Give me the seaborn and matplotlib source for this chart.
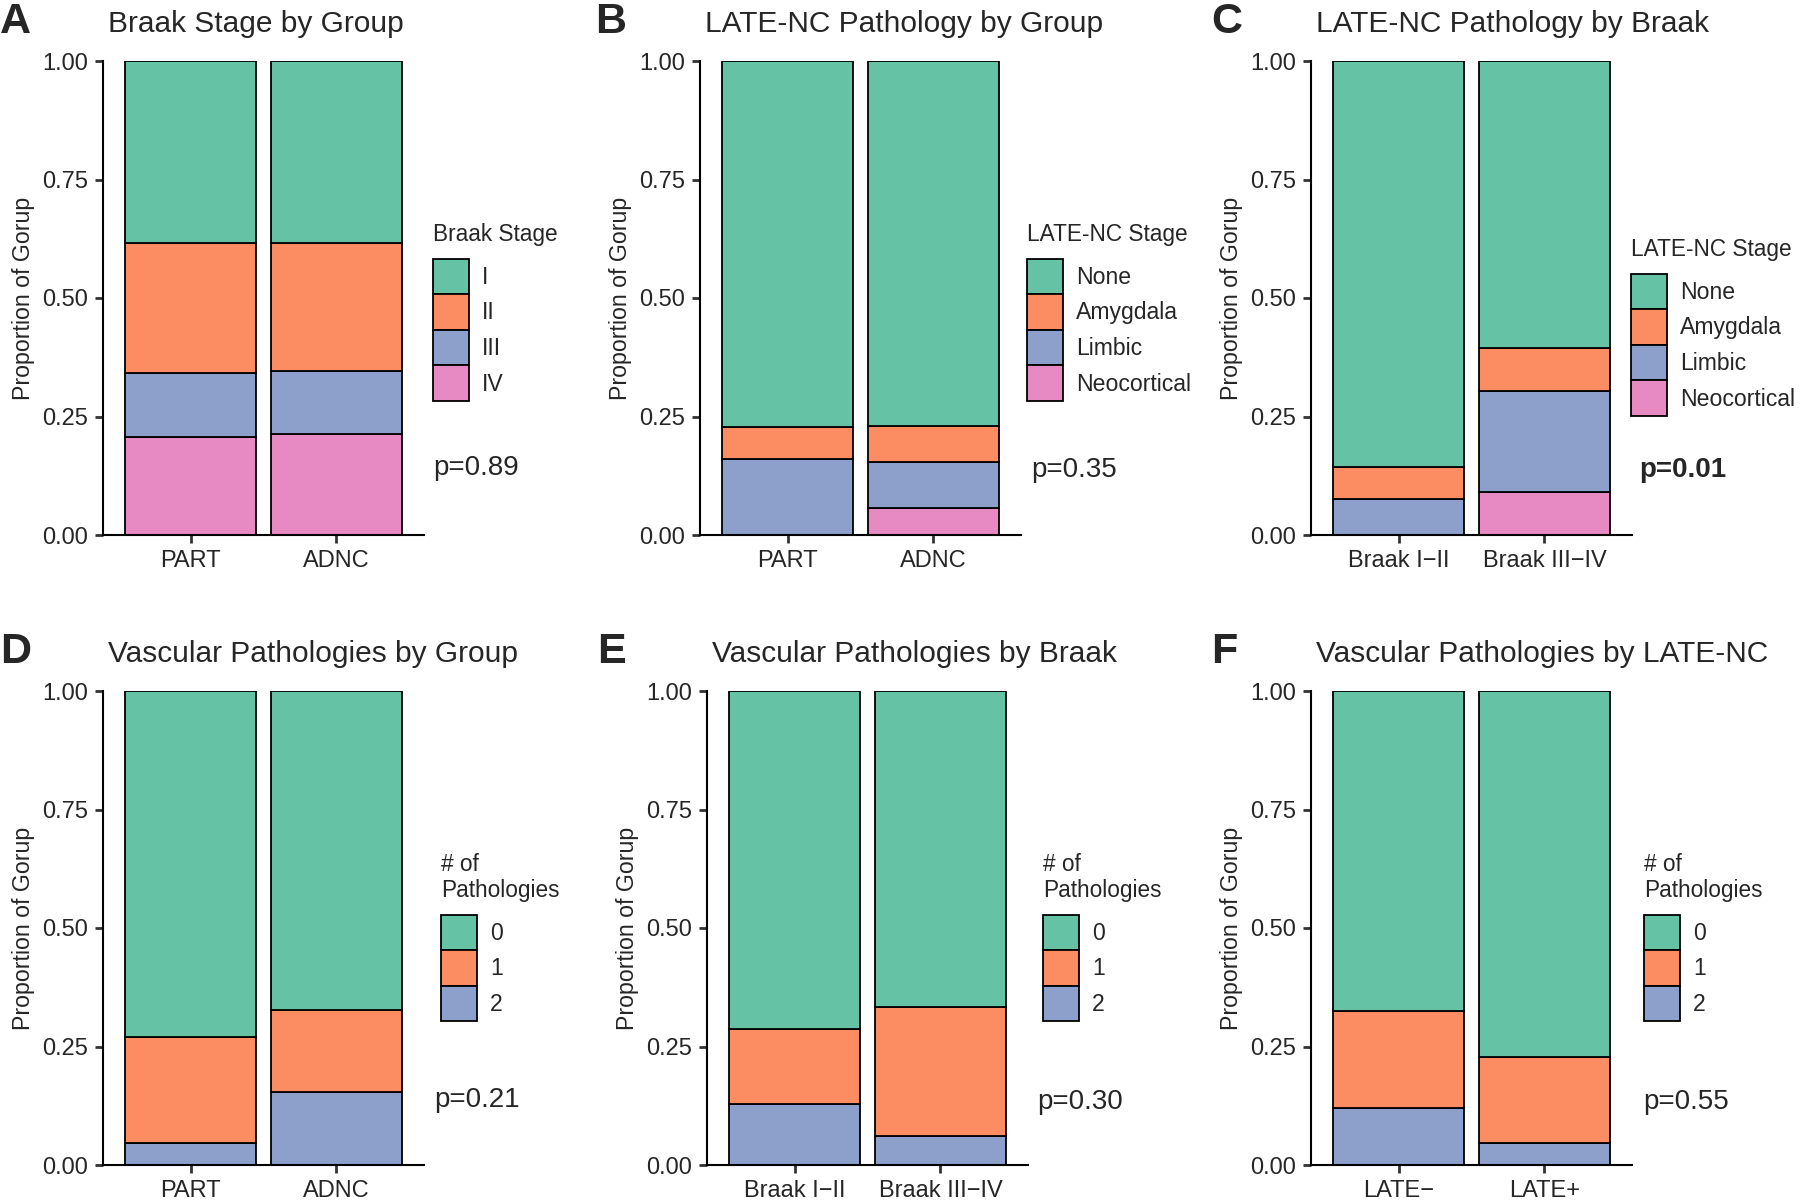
import pandas as pd
import matplotlib
matplotlib.use('Agg')
import matplotlib.pyplot as plt
from matplotlib.patches import Patch
import seaborn as sns

# Proportions (legend order = top-to-bottom of each bar)
braak_levels = ['I', 'II', 'III', 'IV']
late_levels = ['None', 'Amygdala', 'Limbic', 'Neocortical']
vasc_levels = ['0', '1', '2']

group_cats = ['PART', 'ADNC']
braak_cats = ['Braak I\u2212II', 'Braak III\u2212IV']
late_cats = ['LATE\u2212', 'LATE+']

# panel A: Braak stage by group
braak_part = [0.385, 0.274, 0.135, 0.206]
braak_adnc = [0.385, 0.269, 0.133, 0.213]
# panel B: LATE-NC by group
late_part = [0.772, 0.068, 0.160, 0.0]
late_adnc = [0.770, 0.075, 0.097, 0.058]
# panel C: LATE-NC by Braak
late_braak12 = [0.857, 0.066, 0.077, 0.0]
late_braak34 = [0.605, 0.092, 0.213, 0.090]
# panel D: vascular by group
vasc_part = [0.729, 0.225, 0.046]
vasc_adnc = [0.673, 0.174, 0.153]
# panel E: vascular by Braak
vasc_braak12 = [0.714, 0.158, 0.128]
vasc_braak34 = [0.666, 0.273, 0.061]
# panel F: vascular by LATE-NC
vasc_late_neg = [0.676, 0.203, 0.121]
vasc_late_pos = [0.772, 0.182, 0.046]

p_values = ['p=0.89', 'p=0.35', 'p=0.01', 'p=0.21', 'p=0.30', 'p=0.55']

set2 = ['#66C2A5', '#FC8D62', '#8DA0CB', '#E78AC3']

sns.set_style('ticks')
plt.rcParams['font.family'] = ['Liberation Sans', 'DejaVu Sans']


def make_df(cats, levels, first, second):
    rows = []
    for cat, vals in zip(cats, [first, second]):
        for lev, v in zip(levels, vals):
            rows.append({'group': cat, 'level': lev, 'prop': v})
    df = pd.DataFrame(rows)
    df['group'] = pd.Categorical(df['group'], categories=cats, ordered=True)
    return df


panels = [
    dict(title='Braak Stage by Group', letter='A', cats=group_cats, levels=braak_levels,
         vals=(braak_part, braak_adnc), leg_title='Braak Stage'),
    dict(title='LATE-NC Pathology by Group', letter='B', cats=group_cats, levels=late_levels,
         vals=(late_part, late_adnc), leg_title='LATE-NC Stage'),
    dict(title='LATE-NC Pathology by Braak', letter='C', cats=braak_cats, levels=late_levels,
         vals=(late_braak12, late_braak34), leg_title='LATE-NC Stage'),
    dict(title='Vascular Pathologies by Group', letter='D', cats=group_cats, levels=vasc_levels,
         vals=(vasc_part, vasc_adnc), leg_title='# of\nPathologies'),
    dict(title='Vascular Pathologies by Braak', letter='E', cats=braak_cats, levels=vasc_levels,
         vals=(vasc_braak12, vasc_braak34), leg_title='# of\nPathologies'),
    dict(title='Vascular Pathologies by LATE-NC', letter='F', cats=late_cats, levels=vasc_levels,
         vals=(vasc_late_neg, vasc_late_pos), leg_title='# of\nPathologies'),
]

# layout (pixels of the 1800x1201 figure)
W, H = 1800, 1201
spine_x = [103, 700, 1311, 103, 707, 1311]
ax_w = 321
top_y = [61, 61, 61, 691, 691, 691]
ax_h = 474
leg_x = [433, 1027, 1631, 441, 1043, 1644]
leg_cy = [312, 312, 327, 937, 937, 937]
p_x = [433, 1031, 1639, 434, 1037, 1643]
p_y = [468, 470, 470, 1100, 1102, 1102]
letter_x = [0, 595, 1211, 0, 597, 1211]

fig = plt.figure(figsize=(18, 12.01), dpi=100)

for i, pnl in enumerate(panels):
    ax = fig.add_axes([spine_x[i] / W, 1 - (top_y[i] + ax_h) / H, ax_w / W, ax_h / H])
    df = make_df(pnl['cats'], pnl['levels'], *pnl['vals'])
    pal = set2[:len(pnl['levels'])]
    sns.histplot(data=df, x='group', hue='level', weights='prop', multiple='stack',
                 discrete=True, shrink=0.9, hue_order=pnl['levels'], palette=pal,
                 alpha=1, edgecolor='black', linewidth=1.3, legend=False, ax=ax)
    ax.set_xlim(-0.6, 1.6)
    ax.set_ylim(0, 1)
    ax.set_xticks([0, 1])
    ax.set_xticklabels(pnl['cats'])
    ax.set_yticks([0, 0.25, 0.5, 0.75, 1.0])
    ax.set_yticklabels(['0.00', '0.25', '0.50', '0.75', '1.00'])
    ax.set_xlabel('')
    ax.set_ylabel('Proportion of Gorup', fontsize=16.7, labelpad=5)
    ax.tick_params(labelsize=17, length=5.5, width=2, color='#333333', pad=5)
    for s in ['top', 'right']:
        ax.spines[s].set_visible(False)
    for s in ['left', 'bottom']:
        ax.spines[s].set_linewidth(1.5)
        ax.spines[s].set_color('black')
    ax.set_title(pnl['title'], loc='left', x=0.016, fontsize=21.5, pad=21)

    handles = [Patch(facecolor=c, edgecolor='black', linewidth=1.3) for c in pal]
    leg = ax.legend(handles, pnl['levels'], title=pnl['leg_title'], loc='center left',
                    bbox_to_anchor=((leg_x[i] - spine_x[i]) / ax_w,
                                    (top_y[i] + ax_h - leg_cy[i]) / ax_h),
                    frameon=False, fontsize=16.6, title_fontsize=16.3,
                    handlelength=1.58, handleheight=2.0, labelspacing=0.0,
                    handletextpad=0.55, borderpad=0, borderaxespad=0)
    leg._legend_box.align = 'left'
    leg._legend_box.sep = 9

    ax.text((p_x[i] - spine_x[i]) / ax_w, (top_y[i] + ax_h - p_y[i]) / ax_h, p_values[i],
            transform=ax.transAxes, ha='left', va='center', fontsize=20,
            fontweight='bold' if pnl['letter'] == 'C' else 'normal', clip_on=False)

    fig.text(letter_x[i] / W, 1 - (top_y[i] - 39) / H, pnl['letter'], fontsize=31,
             fontweight='bold', ha='left', va='center')

fig.savefig('out.png', dpi=100)
